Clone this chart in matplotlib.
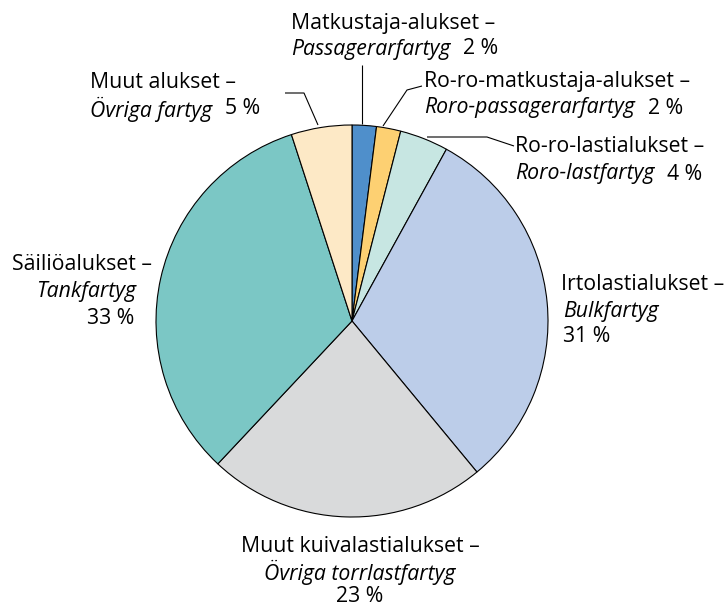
import matplotlib
matplotlib.use("Agg")
import matplotlib.pyplot as plt

# share of fleet by ship type, clockwise from 12 o'clock
labels_fi = ["Matkustaja-alukset", "Ro-ro-matkustaja-alukset", "Ro-ro-lastialukset",
             "Irtolastialukset", "Muut kuivalastialukset", "Säiliöalukset", "Muut alukset"]
labels_sv = ["Passagerarfartyg", "Roro-passagerarfartyg", "Roro-lastfartyg",
             "Bulkfartyg", "Övriga torrlastfartyg", "Tankfartyg", "Övriga fartyg"]
shares = [2, 2, 4, 31, 23, 33, 5]
colors = ["#4f8fcb", "#fdd072", "#c7e6e2", "#bccde9", "#d9dadb", "#7bc7c5", "#fde9c6"]

plt.rcParams['font.family'] = ['Open Sans', 'DejaVu Sans']
FS = 15.3

fig = plt.figure(figsize=(7.28, 6.08), dpi=100)
ax = fig.add_axes([0, 0, 1, 1])

cx, cy, r = 352, 287, 196
ax.pie(shares, colors=colors, startangle=90, counterclock=False, center=(cx, cy), radius=r,
       wedgeprops=dict(edgecolor='black', linewidth=0.8), frame=True)
ax.set_xlim(0, 728)
ax.set_ylim(0, 608)
ax.set_aspect('equal')
ax.axis('off')


def Y(y):
    return 608 - y


def line(pts):
    xs = [p[0] for p in pts]
    ys = [Y(p[1]) for p in pts]
    ax.plot(xs, ys, color='black', lw=0.8, solid_capstyle='butt')


fig.canvas.draw()
rend = fig.canvas.get_renderer()


def label2(x, y, italic, pct):
    # italic part followed by regular percent
    t = ax.text(x, Y(y), italic, style='italic', fontsize=FS, va='center', ha='left')
    bb = t.get_window_extent(renderer=rend)
    ax.text(x + bb.width + 13, Y(y), pct, fontsize=FS, va='center', ha='left')


# Matkustaja
line([(362, 124), (362, 65)])
ax.text(291, Y(23), labels_fi[0] + " –", fontsize=FS, va='center')
label2(291, 49, labels_sv[0], "%d %%" % shares[0])

# Ro-ro-matkustaja
line([(383, 126), (407, 90), (422, 86)])
ax.text(424, Y(81), labels_fi[1] + " –", fontsize=FS, va='center')
label2(424, 108, labels_sv[1], "%d %%" % shares[1])

# Ro-ro-lasti
line([(427, 137), (487, 137), (514, 146)])
ax.text(515, Y(147), labels_fi[2] + " –", fontsize=FS, va='center')
label2(515, 174, labels_sv[2], "%d %%" % shares[2])

# Irtolasti
ax.text(561, Y(284), labels_fi[3] + " –", fontsize=FS, va='center')
ax.text(563, Y(311), labels_sv[3], fontsize=FS, style='italic', va='center')
ax.text(563, Y(337), "%d %%" % shares[3], fontsize=FS, va='center')

# Muut kuivalasti
ax.text(cx + 8, Y(546), labels_fi[4] + " –", fontsize=FS, va='center', ha='center')
ax.text(cx + 8, Y(572), labels_sv[4], fontsize=FS, style='italic', va='center', ha='center')
ax.text(cx + 8, Y(596), "%d %%" % shares[4], fontsize=FS, va='center', ha='center')

# Säiliö
ax.text(152, Y(265), labels_fi[5] + " –", fontsize=FS, va='center', ha='right')
ax.text(136, Y(292), labels_sv[5], fontsize=FS, style='italic', va='center', ha='right')
ax.text(134, Y(318), "%d %%" % shares[5], fontsize=FS, va='center', ha='right')

# Muut alukset
line([(318, 125), (304, 93), (285, 93)])
ax.text(90, Y(82), labels_fi[6] + " –", fontsize=FS, va='center')
label2(90, 109, labels_sv[6], "%d %%" % shares[6])

fig.savefig("out.png", dpi=100)
